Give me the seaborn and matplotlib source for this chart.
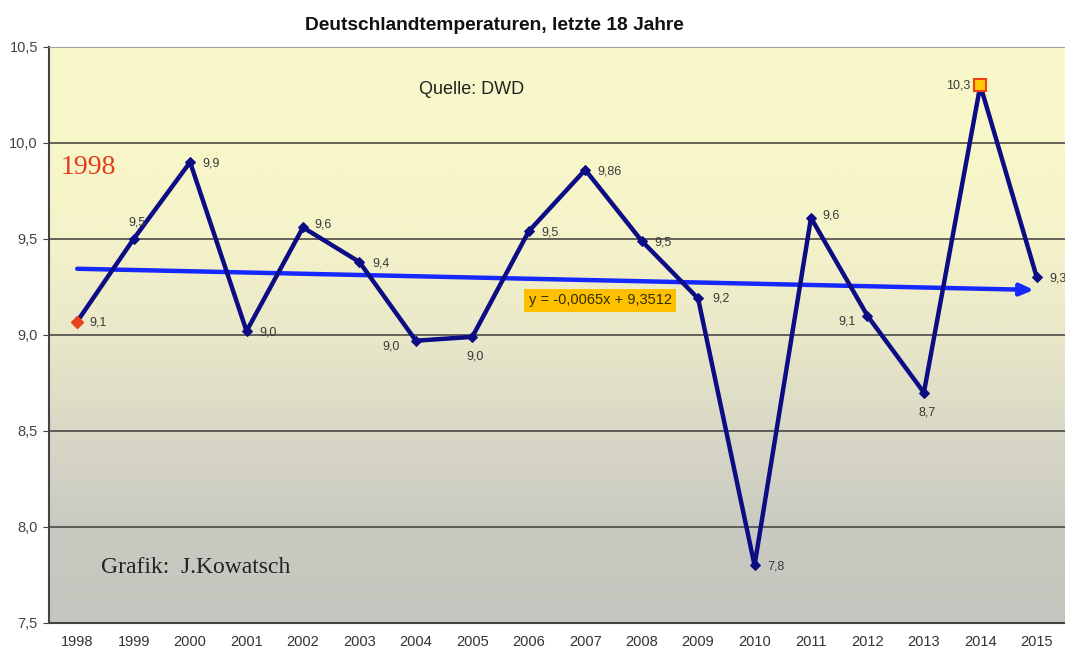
import numpy as np
import pandas as pd
import matplotlib
matplotlib.use("Agg")
import matplotlib.pyplot as plt
from matplotlib.colors import LinearSegmentedColormap
import seaborn as sns

# data
years = [1998, 1999, 2000, 2001, 2002, 2003, 2004, 2005, 2006,
         2007, 2008, 2009, 2010, 2011, 2012, 2013, 2014, 2015]
temps = [9.07, 9.50, 9.90, 9.02, 9.56, 9.38, 8.97, 8.99, 9.54,
         9.86, 9.49, 9.19, 7.80, 9.61, 9.10, 8.70, 10.30, 9.30]
labels = ["9,1", "9,5", "9,9", "9,0", "9,6", "9,4", "9,0", "9,0", "9,5",
          "9,86", "9,5", "9,2", "7,8", "9,6", "9,1", "8,7", "10,3", "9,3"]
trend_slope = -0.0065
trend_icpt = 9.3512
yticks = [7.5, 8.0, 8.5, 9.0, 9.5, 10.0, 10.5]

df = pd.DataFrame({"idx": np.arange(len(years)), "temp": temps})

sns.set_style("white")
plt.rcParams["font.family"] = ["Liberation Sans", "DejaVu Sans"]

fig = plt.figure(figsize=(10.65, 6.48), dpi=100)
ax = fig.add_axes([0.046, 0.0386, 0.954, 0.889])

# background gradient yellow -> grey
cmap = LinearSegmentedColormap.from_list(
    "bg", [(0.0, "#c5c5bf"), (0.17, "#cacac2"), (0.33, "#d9d8c6"),
           (0.5, "#e9e8c9"), (0.67, "#f5f3c9"), (0.83, "#f8f7c9"), (1.0, "#f9f8ca")])
grad = np.linspace(0, 1, 256).reshape(-1, 1)
ax.imshow(grad, aspect="auto", cmap=cmap, origin="lower",
          extent=[-0.5, len(years) - 0.5, 7.5, 10.5], zorder=0)

for y in yticks[1:-1]:
    ax.axhline(y, color="#4a4a44", lw=1.2, zorder=1)

sns.lineplot(data=df, x="idx", y="temp", ax=ax, color="#0c0c84", lw=3.2,
             marker="D", markersize=5, markeredgecolor="#0c0c84", zorder=3)
ax.plot(0, temps[0], marker="D", color="#e8401c", markersize=6, zorder=4)
ax.plot(16, temps[16], marker="s", markerfacecolor="#ffc800",
        markeredgecolor="#f04010", markeredgewidth=1.5, markersize=9, zorder=4)

# trend line with arrow
x0, x1 = 0, len(years) - 1.05
y0 = trend_slope * (x0 + 1) + trend_icpt
y1 = trend_slope * (x1 + 1) + trend_icpt
ax.annotate("", xy=(x1, y1), xytext=(x0, y0), zorder=2,
            arrowprops=dict(arrowstyle="-|>,head_length=0.8,head_width=0.35",
                            color="#1428ff", lw=3.2, shrinkA=0, shrinkB=0))

# point labels (offsets in points)
offsets = {1: (-4, 12), 4: (8, 2), 6: (-24, -4), 7: (-4, -14),
           11: (10, 0), 14: (-21, -4), 15: (-4, -14), 16: (-25, 0),
           13: (8, 2)}
for i, (t, lab) in enumerate(zip(temps, labels)):
    dx, dy = offsets.get(i, (9, -1))
    ax.annotate(lab, (i, t), xytext=(dx, dy), textcoords="offset points",
                fontsize=9, color="#3a3a3a", va="center", ha="left", zorder=5)

ax.text(8.0, 9.18, "y = -0,0065x + 9,3512", fontsize=10.5, color="#303000",
        va="center", zorder=5,
        bbox=dict(boxstyle="square,pad=0.3", fc="#ffc000", ec="none"))
ax.text(-0.3, 9.87, "1998", fontsize=20, color="#e83a1c",
        family="Liberation Serif", va="center", zorder=5)
ax.text(6.05, 10.28, "Quelle: DWD", fontsize=13, color="#222222",
        va="center", zorder=5)
ax.text(0.42, 7.79, "Grafik:  J.Kowatsch", fontsize=17, color="#222222",
        family="Liberation Serif", va="center", zorder=5)
fig.text(0.464, 0.961, "Deutschlandtemperaturen, letzte 18 Jahre",
         ha="center", va="center", fontsize=13.8, fontweight="bold", color="#111111")

ax.set_xlim(-0.5, len(years) - 0.5)
ax.set_ylim(7.5, 10.5)
ax.set_yticks(yticks)
ax.set_yticklabels([f"{v:.1f}".replace(".", ",") for v in yticks],
                   fontsize=10.5, color="#444444")
ax.set_xticks(np.arange(len(years)))
ax.set_xticklabels([str(y) for y in years], fontsize=10.5, color="#333333")
ax.set_xticks(np.arange(len(years) + 1) - 0.5, minor=True)
ax.tick_params(axis="x", which="major", length=0, pad=9)
ax.tick_params(axis="x", which="minor", length=4, color="#444444", direction="out")
ax.tick_params(axis="y", length=4, color="#444444", direction="out", left=True, pad=4)
ax.set_xlabel("")
ax.set_ylabel("")
for side in ["left", "bottom"]:
    ax.spines[side].set_color("#444444")
    ax.spines[side].set_linewidth(1.5)
ax.spines["top"].set_color("#a0a0a0")
ax.spines["right"].set_visible(False)

fig.savefig("out.png", dpi=100)
